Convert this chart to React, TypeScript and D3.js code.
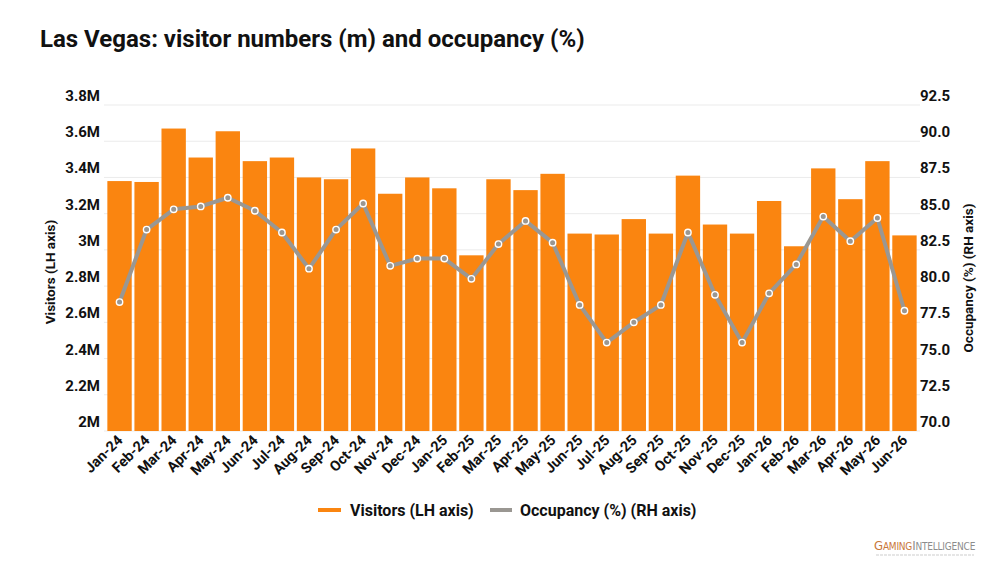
import * as d3 from 'd3';
import { useRef, useEffect } from 'react';

const months = [
  'Jan-24', 'Feb-24', 'Mar-24', 'Apr-24', 'May-24', 'Jun-24', 'Jul-24', 'Aug-24', 'Sep-24', 'Oct-24', 'Nov-24', 'Dec-24',
  'Jan-25', 'Feb-25', 'Mar-25', 'Apr-25', 'May-25', 'Jun-25', 'Jul-25', 'Aug-25', 'Sep-25', 'Oct-25', 'Nov-25', 'Dec-25',
  'Jan-26', 'Feb-26', 'Mar-26', 'Apr-26', 'May-26', 'Jun-26',
];

// visitors, millions
const visitors = [
  3.38, 3.375, 3.67, 3.51, 3.655, 3.49, 3.51, 3.40, 3.39, 3.56, 3.31, 3.40,
  3.34, 2.97, 3.39, 3.33, 3.42, 3.09, 3.085, 3.17, 3.09, 3.41, 3.14, 3.09,
  3.27, 3.02, 3.45, 3.28, 3.49, 3.08,
];

// occupancy, %
const occupancy = [
  78.9, 83.9, 85.3, 85.5, 86.1, 85.2, 83.7, 81.2, 83.9, 85.7, 81.4, 81.9,
  81.9, 80.5, 82.9, 84.5, 83.0, 78.7, 76.1, 77.5, 78.7, 83.7, 79.4, 76.1,
  79.5, 81.5, 84.8, 83.1, 84.7, 78.3,
];

const leftTicks = [2, 2.2, 2.4, 2.6, 2.8, 3, 3.2, 3.4, 3.6, 3.8];
const rightTicks = [70, 72.5, 75, 77.5, 80, 82.5, 85, 87.5, 90, 92.5];

const W = 1000;
const H = 563;
const FONT = 'Roboto, "Noto Sans", sans-serif';
const ORANGE = '#FA8510';
const GREY = '#9A9792';

const App = () => {
  const ref: any = useRef();

  useEffect(() => {
    const svg = d3.select(ref.current);
    svg.selectAll('*').remove();

    const x = d3.scaleBand().domain(months).range([106, 918]).paddingInner(0.1).paddingOuter(0.05);
    const yL = d3.scaleLinear().domain([2, 3.8]).range([431, 105]);
    const yR = d3.scaleLinear().domain([70, 92.5]).range([431, 105]);

    svg.append('rect').attr('width', W).attr('height', H).attr('fill', '#fff');

    // title
    svg.append('text')
      .attr('x', 40).attr('y', 47)
      .attr('font-family', FONT).attr('font-weight', 700).attr('font-size', 24)
      .attr('fill', '#111')
      .text('Las Vegas: visitor numbers (m) and occupancy (%)');

    // gridlines
    svg.append('g').selectAll('line')
      .data(leftTicks)
      .enter().append('line')
      .attr('x1', 104).attr('x2', 920)
      .attr('y1', d => yL(d)).attr('y2', d => yL(d))
      .attr('stroke', '#ebebeb').attr('stroke-width', 1);

    // left labels
    svg.append('g').selectAll('text')
      .data(leftTicks)
      .enter().append('text')
      .attr('x', 100).attr('y', d => yL(d) - 4)
      .attr('text-anchor', 'end')
      .attr('font-family', FONT).attr('font-weight', 700).attr('font-size', 15)
      .attr('fill', '#111')
      .text(d => (d === 2 || d === 3 ? d : d.toFixed(1)) + 'M');

    // right labels
    svg.append('g').selectAll('text')
      .data(rightTicks)
      .enter().append('text')
      .attr('x', 920).attr('y', d => yR(d) - 4)
      .attr('font-family', FONT).attr('font-weight', 700).attr('font-size', 15)
      .attr('fill', '#111')
      .text(d => d.toFixed(1));

    // axis titles
    svg.append('text')
      .attr('transform', 'translate(55,272) rotate(-90)')
      .attr('text-anchor', 'middle')
      .attr('font-family', FONT).attr('font-weight', 700).attr('font-size', 13.5)
      .attr('fill', '#111')
      .text('Visitors (LH axis)');
    svg.append('text')
      .attr('transform', 'translate(973,278) rotate(-90)')
      .attr('text-anchor', 'middle')
      .attr('font-family', FONT).attr('font-weight', 700).attr('font-size', 13.5)
      .attr('fill', '#111')
      .text('Occupancy (%) (RH axis)');

    // bars
    svg.append('g').selectAll('rect')
      .data(visitors)
      .enter().append('rect')
      .attr('x', (d, i) => x(months[i]) as number)
      .attr('y', d => yL(d))
      .attr('width', x.bandwidth())
      .attr('height', d => yL(2) - yL(d))
      .attr('fill', ORANGE);

    // occupancy line
    const cx = (i: number) => (x(months[i]) as number) + x.bandwidth() / 2;
    const line = d3.line<number>()
      .x((d, i) => cx(i))
      .y(d => yR(d));
    svg.append('path')
      .datum(occupancy)
      .attr('d', line)
      .attr('fill', 'none')
      .attr('stroke', GREY)
      .attr('stroke-width', 4)
      .attr('stroke-linejoin', 'round');
    svg.append('g').selectAll('circle')
      .data(occupancy)
      .enter().append('circle')
      .attr('cx', (d, i) => cx(i))
      .attr('cy', d => yR(d))
      .attr('r', 3.2)
      .attr('fill', GREY)
      .attr('stroke', '#fff')
      .attr('stroke-width', 1.4);

    // x labels
    svg.append('g').selectAll('text')
      .data(months)
      .enter().append('text')
      .attr('transform', d => `translate(${(x(d) as number) + x.bandwidth() / 2 + 4},${441}) rotate(-45)`)
      .attr('text-anchor', 'end')
      .attr('font-family', FONT).attr('font-weight', 700).attr('font-size', 14.5)
      .attr('fill', '#111')
      .text(d => d);

    // legend
    const lg = svg.append('g').attr('font-family', FONT).attr('font-weight', 700).attr('font-size', 16).attr('fill', '#111');
    lg.append('line').attr('x1', 318).attr('x2', 341).attr('y1', 510).attr('y2', 510)
      .attr('stroke', ORANGE).attr('stroke-width', 4);
    lg.append('text').attr('x', 350).attr('y', 515.5).text('Visitors (LH axis)');
    lg.append('line').attr('x1', 490).attr('x2', 512).attr('y1', 510).attr('y2', 510)
      .attr('stroke', GREY).attr('stroke-width', 4);
    lg.append('text').attr('x', 520).attr('y', 515.5).text('Occupancy (%) (RH axis)');

    // logo
    const logo = svg.append('text').attr('x', 874).attr('y', 550)
      .attr('font-family', '"DejaVu Sans Condensed", "DejaVu Sans", sans-serif').attr('font-size', 13).attr('letter-spacing', -0.2);
    logo.append('tspan').attr('fill', '#C9773A').text('G');
    logo.append('tspan').attr('fill', '#C9773A').attr('font-size', 10).text('AMING');
    logo.append('tspan').attr('fill', '#8c8c8c').text('I');
    logo.append('tspan').attr('fill', '#8c8c8c').attr('font-size', 10).text('NTELLIGENCE');
    svg.append('line').attr('x1', 876).attr('x2', 974).attr('y1', 555).attr('y2', 555)
      .attr('stroke', '#dedede').attr('stroke-width', 1.5).attr('stroke-dasharray', '3,1');
  }, []);

  return (
    <div style={{ position: 'fixed', left: 0, top: 0 }}>
      <svg ref={ref} width={W} height={H} style={{ display: 'block' }} />
    </div>
  );
};

export default App;
